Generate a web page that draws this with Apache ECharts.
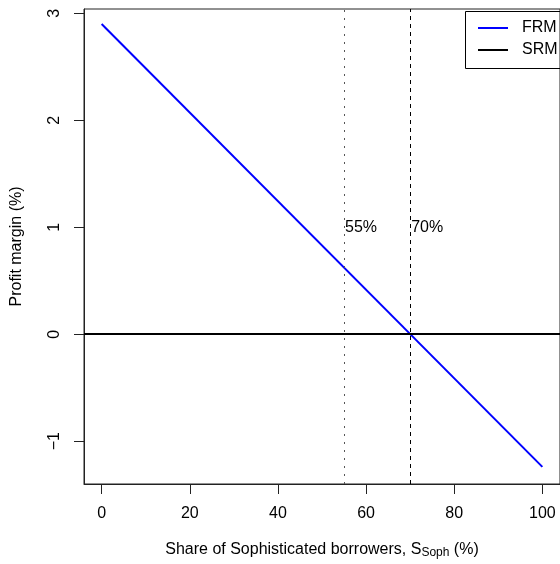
<!DOCTYPE html>
<html>
<head>
<meta charset="utf-8">
<script src="https://cdn.jsdelivr.net/npm/echarts@6/dist/echarts.min.js"></script>
<style>
  html, body { margin: 0; padding: 0; background: #fff; }
  #chart { width: 560px; height: 564px; }
</style>
</head>
<body>
<div id="chart"></div>
<script>
// data
const xTicks = [0, 20, 40, 60, 80, 100];
const yTicks = [-1, 0, 1, 2, 3];
const frmShare = [0, 100];
const frmMargin = [2.9, -1.24];
const srmMargin = 0;
const cutoffs = [55, 70];
const cutoffLabels = ['55%', '70%'];
const cutoffLabelY = 1;

const FONT = 'Liberation Sans, Arial, Helvetica, sans-serif';
const AXIS_COLOR = '#222';
const FS = 16;

const chart = echarts.init(document.getElementById('chart'), null, { renderer: 'canvas' });

const option = {
  animation: false,
  textStyle: { fontFamily: FONT },
  grid: {
    left: 84, top: 9, width: 481, height: 479,
    show: true, borderColor: AXIS_COLOR, borderWidth: 1, containLabel: false
  },
  // legend frame runs off the right edge like in the reference
  graphic: [{
    type: 'rect', left: 463, top: 9, z: 100,
    shape: { width: 160, height: 57 },
    style: { fill: 'none', stroke: '#000', lineWidth: 1 }
  }],
  legend: {
    orient: 'vertical',
    left: 463, top: 9,
    padding: [11, 0, 10, 14],
    itemWidth: 30, itemHeight: 14, itemGap: 6,
    borderWidth: 0,
    itemStyle: { opacity: 0 },
    textStyle: { fontSize: FS, color: '#000', padding: [0, 0, 0, 9] },
    data: ['FRM', 'SRM']
  },
  xAxis: {
    type: 'value', min: -4, max: 104,
    splitLine: { show: false },
    axisLine: { show: true, onZero: false, lineStyle: { color: AXIS_COLOR } },
    axisTick: { show: true, length: 10, customValues: xTicks, lineStyle: { color: AXIS_COLOR } },
    axisLabel: { customValues: xTicks, margin: 22, fontSize: FS, color: '#000' },
    name: 'Share of Sophisticated borrowers, S{sub|Soph} (%)',
    nameLocation: 'middle', nameGap: 56,
    nameTextStyle: {
      fontSize: FS, color: '#000',
      rich: { sub: { fontSize: 12, color: '#000', padding: [7, 0, 0, 0] } }
    }
  },
  yAxis: {
    type: 'value', min: -1.4, max: 3.04,
    splitLine: { show: false },
    axisLine: { show: true, onZero: false, lineStyle: { color: AXIS_COLOR } },
    axisTick: { show: true, length: 10, customValues: yTicks, lineStyle: { color: AXIS_COLOR } },
    axisLabel: {
      customValues: yTicks, margin: 21, fontSize: FS, color: '#000', rotate: 90,
      formatter: v => String(v).replace('-', '\u2212')
    },
    name: 'Profit margin (%)',
    nameLocation: 'middle', nameGap: 59, nameRotate: 90,
    nameTextStyle: { fontSize: FS, color: '#000' }
  },
  series: [
    {
      name: 'FRM', type: 'line', symbol: 'none',
      color: '#0000ff',
      lineStyle: { color: '#0000ff', width: 2 },
      data: frmShare.map((x, i) => [x, frmMargin[i]])
    },
    {
      name: 'SRM', type: 'line', symbol: 'none',
      color: '#000',
      lineStyle: { color: '#000', width: 2 },
      data: [],
      markLine: {
        silent: true, symbol: 'none', label: { show: false },
        lineStyle: { color: '#000', width: 2, type: 'solid' },
        data: [{ yAxis: srmMargin }]
      }
    },
    {
      name: 'cutoffs', type: 'scatter', symbolSize: 0,
      data: cutoffs.map((x, i) => ({ value: [x, cutoffLabelY], name: cutoffLabels[i] })),
      label: {
        show: true, position: 'right', distance: 1,
        formatter: p => p.name, fontSize: FS, color: '#000',
        opacity: 1, textBorderWidth: 0
      },
      markLine: {
        silent: true, symbol: 'none', label: { show: false },
        data: [
          { xAxis: cutoffs[0], lineStyle: { color: '#555', width: 1, type: [2, 6] } },
          { xAxis: cutoffs[1], lineStyle: { color: '#000', width: 1, type: [4, 4] } }
        ]
      }
    }
  ]
};

chart.setOption(option);
</script>
</body>
</html>
